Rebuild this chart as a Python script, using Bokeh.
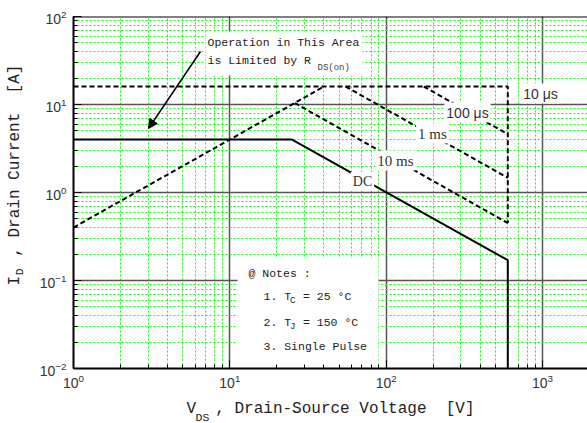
import math
from bokeh.plotting import figure
from bokeh.models import Label, BoxAnnotation, Arrow, NormalHead, Span, Range1d, Title
from bokeh.embed import file_html
from bokeh.resources import INLINE

# ---------------- data ----------------
x_start, x_end = 1, 1941          # V_DS range [V]
y_start, y_end = 0.01, 100        # I_D range [A]

dc_v = [1, 25, 600, 600]
dc_i = [4.0, 4.0, 0.17, 0.01]
rds_v = [1, 40]
rds_i = [0.4, 16]
us10_v = [1, 600, 600]
us10_i = [16, 16, 0.45]
us100_v = [174, 600]
us100_i = [16, 4.6]
ms1_v = [55, 600]
ms1_i = [16, 1.47]
ms10_v = [26, 600]
ms10_i = [10.4, 0.45]

NB = "\u00a0"
curve_labels = ["10 \u03bcs", "100 \u03bcs", "1 ms", "10 ms", "DC"]
notes = ["@ Notes :", "1. T", "C", NB + "= 25 \u00b0C", "2. T", "J", NB + "= 150 \u00b0C", "3. Single Pulse"]
x_title = "V" + NB * 2 + "," + NB + "Drain-Source" + NB + "Voltage" + NB * 2 + "[V]"
x_title_sub = "DS"
y_title = "I" + NB * 2 + "," + NB + "Drain" + NB + "Current" + NB * 2 + "[A]"
y_title_sub = "D"

# ---------------- layout helpers (pixel -> data) ----------------
FL, FT, DEC_X, DEC_Y = 73.0, 16.0, 156.33, 88.0


def xd(px):
    return 10 ** ((px - FL) / DEC_X)


def yd(py):
    return 10 ** (2 - (py - FT) / DEC_Y)


p = figure(width=587, height=423, x_axis_type="log", y_axis_type="log",
           x_range=Range1d(x_start, x_end), y_range=Range1d(y_start, y_end),
           output_backend="svg", toolbar_location=None,
           min_border_left=73, min_border_right=0, min_border_top=16, min_border_bottom=55)
p.outline_line_color = None
p.background_fill_color = "white"
p.border_fill_color = "white"

tfont = "Liberation Mono"
for ax in (p.xaxis[0], p.yaxis[0]):
    ax.axis_line_width = 2
    ax.axis_line_color = "black"
    ax.major_tick_in = 8
    ax.major_tick_out = 0
    ax.minor_tick_in = 4
    ax.minor_tick_out = 0
    ax.major_tick_line_color = "black"
    ax.minor_tick_line_color = "black"
    ax.major_label_text_font = "Liberation Sans"
    ax.major_label_text_font_size = "14px"
    ax.major_label_text_color = "#333333"
    ax.axis_label_text_font = tfont
    ax.axis_label_text_font_style = "normal"
    ax.axis_label_text_color = "#222222"
p.xaxis.major_label_standoff = 5
p.yaxis.major_label_standoff = 7

# x title: main text as axis label, subscript as a title just below it
p.xaxis.axis_label = x_title
p.xaxis.axis_label_text_font_size = "16px"
p.xaxis.axis_label_standoff = 9
p.add_layout(Title(text=x_title_sub, text_font=tfont, text_font_size="11.5px", text_font_style="normal",
                   text_color="#222222", align="left", offset=122, vertical_align="top",
                   standoff=-19), "below")

# y title: subscript as axis label (padded so it sits after the "I"), main text as a title
p.yaxis.axis_label = y_title_sub + NB * 23
p.yaxis.axis_label_text_font_size = "11.5px"
p.yaxis.axis_label_standoff = 11
p.add_layout(Title(text=y_title, text_font=tfont, text_font_size="16px", text_font_style="normal",
                   text_color="#222222", align="left", offset=83, vertical_align="bottom",
                   standoff=-28), "left")

for g in (p.xgrid[0], p.ygrid[0]):
    g.grid_line_color = "#555555"
    g.grid_line_width = 1.5
    g.minor_grid_line_color = "#22ee22"
    g.minor_grid_line_width = 1
    g.minor_grid_line_dash = "2 2"

p.add_layout(Span(location=y_end, dimension="width", line_color="black", line_width=2))

# white boxes (under data, over grid)
p.add_layout(BoxAnnotation(left=xd(237), right=xd(378), top=yd(258), bottom=y_start,
                           fill_color="white", fill_alpha=1, line_color=None, level="underlay"))
p.add_layout(BoxAnnotation(left=xd(205), right=xd(362), top=yd(31), bottom=yd(75),
                           fill_color="white", fill_alpha=1, line_color=None, level="underlay"))

# curves
dash = "5 3"
p.line(rds_v, rds_i, line_color="black", line_width=2, line_dash=dash)
p.line(us10_v, us10_i, line_color="black", line_width=2, line_dash=dash)
p.line(us100_v, us100_i, line_color="black", line_width=2, line_dash=dash)
p.line(ms1_v, ms1_i, line_color="black", line_width=2, line_dash=dash)
p.line(ms10_v, ms10_i, line_color="black", line_width=2, line_dash=dash)
p.line(dc_v, dc_i, line_color="black", line_width=2)


def txt(px, py, s, size, font="Liberation Mono", color="#222222", align="left", bg=None, pad=0):
    lab = Label(x=xd(px), y=yd(py), text=s, text_font=font, text_font_size=f"{size}px",
                text_color=color, text_align=align, text_baseline="middle")
    if bg is not None:
        lab.background_fill_color = bg
        lab.padding = pad
    p.add_layout(lab)


# curve labels
lab_pos = [(540, 93), (467, 112), (432, 133), (395, 160), (362, 181)]
lab_font = ["Liberation Sans", "Liberation Sans", "Liberation Serif", "Liberation Serif", "Liberation Serif"]
lab_size = [14, 14, 15, 15, 14]
for (px, py), s, f, fs in zip(lab_pos, curve_labels, lab_font, lab_size):
    txt(px, py, s, fs, font=f, color="#333333", align="center", bg="white", pad=2)

# R_DS(on) annotation
txt(207, 42, "Operation in This Area", 11.5)
txt(207, 60, "is Limited by R", 11.5)
txt(317, 67, "DS(on)", 9, color="#444444")
p.add_layout(Arrow(x_start=xd(200), y_start=yd(51), x_end=xd(148), y_end=yd(128),
                   line_color="black", line_width=1.5,
                   end=NormalHead(size=9, fill_color="black", line_color="black")))

# notes
cw = 11.5 * 0.6
txt(248, 273, notes[0], 11.5)
txt(263, 296, notes[1], 11.5)
txt(263 + 4 * cw - 1, 300, notes[2], 9)
txt(263 + 4 * cw + 5, 296, notes[3], 11.5)
txt(263, 322, notes[4], 11.5)
txt(263 + 4 * cw - 1, 326, notes[5], 9)
txt(263 + 4 * cw + 5, 322, notes[6], 11.5)
txt(263, 346, notes[7], 11.5)

open("out.html", "w").write(file_html(p, INLINE))
